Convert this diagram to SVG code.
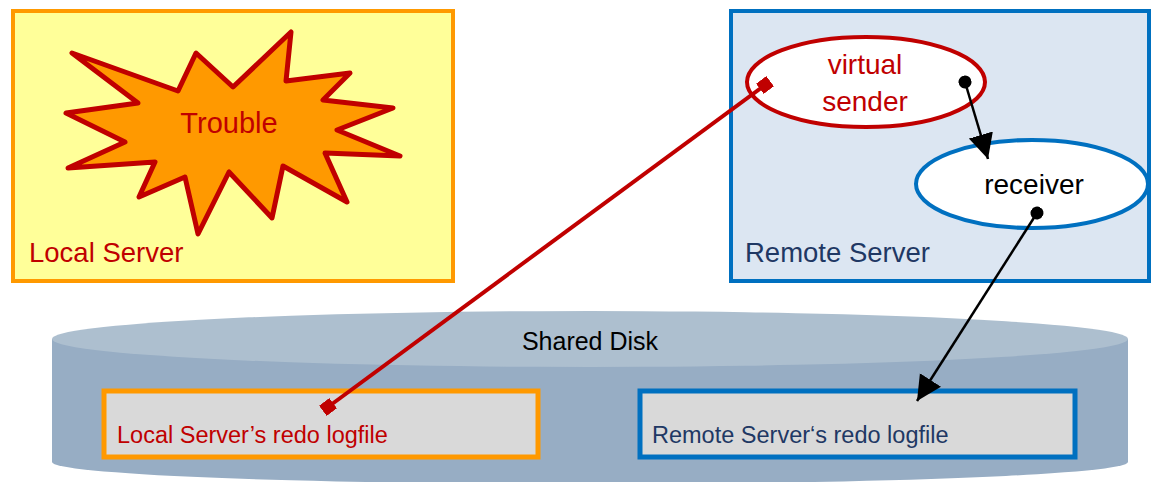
<svg xmlns="http://www.w3.org/2000/svg" width="1153" height="482" viewBox="0 0 1153 482">
<style>
text{font-family:"Liberation Sans",Arial,sans-serif}
.red{fill:#C00000}
.navy{fill:#1F3864}
.blk{fill:#000}
.ell{fill:#fff;stroke-width:4}
</style>
<defs>
<marker id="sq" viewBox="0 0 10 10" refX="5" refY="5" markerWidth="3.2" markerHeight="3.2" orient="auto" markerUnits="strokeWidth">
<rect x="0" y="0" width="10" height="10" fill="#C00000"/>
</marker>
<marker id="dot" viewBox="0 0 10 10" refX="5" refY="5" markerWidth="5.2" markerHeight="5.2" orient="auto" markerUnits="strokeWidth">
<circle cx="5" cy="5" r="5" fill="#000"/>
</marker>
<marker id="arr" viewBox="0 0 10 10" refX="10" refY="5" markerWidth="10" markerHeight="10.5" orient="auto" markerUnits="strokeWidth">
<path d="M0,0 L10,5 L0,10 Z" fill="#000"/>
</marker>
</defs>
<g id="local-server">
<rect x="13" y="11" width="440" height="270" fill="#FFFF99" stroke="#FF9900" stroke-width="4"/>
<text x="29" y="262" font-size="27.5" class="red">Local Server</text>
</g>
<g id="trouble">
<polygon points="72,53 178,91 196,53 233,87 291,32 286,81 350,73 323,100 393,108 337,130 400,156 325,153 347,202 283,166 272,218 229,172 198,234 185,177 139,197 155,162 68,168 125,142 66,113 138,103" fill="#FF9900" stroke="#C00000" stroke-width="5" stroke-linejoin="round"/>
<text x="229" y="133" font-size="29" text-anchor="middle" class="red">Trouble</text>
</g>
<g id="remote-server">
<rect x="731" y="11" width="418" height="270" fill="#DCE6F2" stroke="#0070C0" stroke-width="4"/>
<text x="745" y="262" font-size="27.5" class="navy">Remote Server</text>
</g>
<g id="shared-disk">
<path d="M52,339 L52,462 A538,22 0 0 0 1128,462 L1128,339 Z" fill="#97ADC4"/>
<ellipse cx="590" cy="339" rx="538" ry="28" fill="#ADBFCF"/>
<text x="590" y="350" font-size="25" text-anchor="middle" class="blk">Shared Disk</text>
</g>
<g id="local-logfile">
<rect x="104" y="391" width="434" height="66" fill="#D9D9D9" stroke="#FF9900" stroke-width="5"/>
<text x="117" y="443" font-size="23.5" class="red">Local Server’s redo logfile</text>
</g>
<g id="remote-logfile">
<rect x="640" y="391" width="435" height="66" fill="#D9D9D9" stroke="#0070C0" stroke-width="5"/>
<text x="652" y="443" font-size="23.5" class="navy">Remote Server‘s redo logfile</text>
</g>
<g id="virtual-sender">
<ellipse cx="866" cy="82" rx="119" ry="45" class="ell" stroke="#C00000"/>
<text x="865" y="74" font-size="28" text-anchor="middle" class="red">virtual</text>
<text x="865" y="111" font-size="28" text-anchor="middle" class="red">sender</text>
</g>
<g id="receiver">
<ellipse cx="1032" cy="184" rx="116" ry="44" class="ell" stroke="#0070C0"/>
<text x="1034" y="194" font-size="28" text-anchor="middle" class="blk">receiver</text>
</g>
<g id="connectors">
<line x1="328" y1="407" x2="765" y2="85" stroke="#C00000" stroke-width="4" marker-start="url(#sq)" marker-end="url(#sq)"/>
<line x1="965" y1="82" x2="988" y2="159" stroke="#000" stroke-width="2.5" marker-start="url(#dot)" marker-end="url(#arr)"/>
<line x1="1037" y1="213" x2="917" y2="401" stroke="#000" stroke-width="2.5" marker-start="url(#dot)" marker-end="url(#arr)"/>
</g>
</svg>
